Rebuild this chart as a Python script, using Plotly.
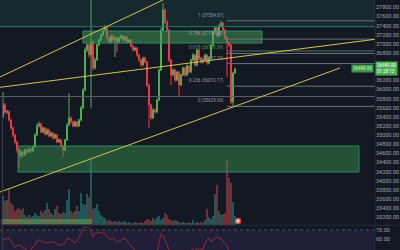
import plotly.graph_objects as go

# ---------------- data ----------------
opens = [35400, 35660, 35507, 35512, 35332, 35157, 35003, 34850, 34675, 34544,
         34631, 34566, 34675, 34631, 34697, 34653, 34741, 35003, 35201, 35244,
         35069, 35157, 35025, 35113, 34982, 35047, 34938, 35003, 34850, 34894,
         34763, 34675, 34894, 35223, 35376, 35288, 35201, 35288, 35201, 35332,
         35595, 35989, 36865, 36975, 36756, 37040, 36471, 36646, 36975, 37084,
         37194, 37303, 37369, 37128, 37040, 37172, 37084, 37128, 37040, 37128,
         37172, 37084, 37150, 37040, 37084, 36953, 36865, 36909, 36756, 36646,
         36537, 36690, 36602, 36099, 35660, 35376, 35551, 35507, 35770, 36427,
         37303, 37741, 37478, 37303, 36646, 36318, 36427, 36208, 36383, 36099,
         36318, 36471, 36318, 36515, 36383, 36646, 36756, 36537, 36865, 36690,
         36602, 36646, 36756, 36580, 36690, 36975, 37259, 37347, 37172, 37391,
         37456, 37303, 37128, 37040, 36975, 35726, 36361]
highs = [35945, 35700, 35560, 35540, 35360, 35190, 35030, 34880, 34700, 34680,
         34660, 34710, 34700, 34730, 34720, 34770, 35040, 35260, 35300, 35270,
         35190, 35180, 35150, 35140, 35080, 35070, 35040, 35030, 34930, 34920,
         34790, 34920, 35260, 35923, 35410, 35320, 35320, 35310, 35360, 35640,
         36030, 36920, 37030, 37000, 38100, 37080, 36690, 37010, 37120, 37230,
         37340, 37412, 37390, 37150, 37200, 37200, 37160, 37150, 37160, 37210,
         37190, 37180, 37170, 37110, 37100, 36980, 36940, 36930, 36780, 36670,
         36720, 36720, 36630, 36120, 35690, 35590, 35580, 35800, 36460, 37350,
         37894, 37780, 37510, 37330, 36670, 36460, 36450, 36410, 36400, 36350,
         36500, 36500, 36550, 36540, 36680, 36800, 36780, 36900, 36890, 36710,
         36680, 36790, 36780, 36720, 37010, 37300, 37390, 37370, 37430, 37504.61,
         37480, 37330, 37160, 37060, 37000, 36390, 36480]
lows = [35380, 35470, 35460, 35300, 35120, 34960, 34800, 34620, 34281, 34500,
        34520, 34540, 34600, 34610, 34620, 34630, 34720, 34980, 35170, 35040,
        35040, 34990, 35000, 34950, 34960, 34900, 34910, 34820, 34830, 34730,
        34522, 34650, 34870, 35200, 35250, 35170, 35180, 35160, 35180, 35300,
        35570, 35960, 36820, 36700, 35600, 36420, 36440, 36620, 36950, 37060,
        37170, 37280, 37090, 37000, 37010, 37050, 36712, 36820, 37010, 37100,
        37050, 37060, 37000, 37010, 36920, 36830, 36840, 36720, 36600, 36500,
        36510, 36570, 36050, 35157, 35340, 35350, 35470, 35480, 35740, 36400,
        37280, 37440, 37260, 36600, 36099, 36290, 36170, 36180, 35836, 36070,
        36290, 36280, 36290, 36350, 36360, 36620, 36500, 36510, 36650, 36560,
        36570, 36620, 36540, 36550, 36660, 36950, 37230, 37140, 37150, 37360,
        37270, 37090, 36274, 36930, 35682, 35629.69, 36340]
closes = [35660, 35507, 35512, 35332, 35157, 35003, 34850, 34675, 34544, 34631,
          34566, 34675, 34631, 34697, 34653, 34741, 35003, 35201, 35244, 35069,
          35157, 35025, 35113, 34982, 35047, 34938, 35003, 34850, 34894, 34763,
          34675, 34894, 35223, 35376, 35288, 35201, 35288, 35201, 35332, 35595,
          35989, 36865, 36975, 36756, 37040, 36471, 36646, 36975, 37084, 37194,
          37303, 37369, 37128, 37040, 37172, 37084, 37128, 37040, 37128, 37172,
          37084, 37150, 37040, 37084, 36953, 36865, 36909, 36756, 36646, 36537,
          36690, 36602, 36099, 35660, 35376, 35551, 35507, 35770, 36427, 37303,
          37741, 37478, 37303, 36646, 36318, 36427, 36208, 36383, 36099, 36318,
          36471, 36318, 36515, 36383, 36646, 36756, 36537, 36865, 36690, 36602,
          36646, 36756, 36580, 36690, 36975, 37259, 37347, 37172, 37391, 37456,
          37303, 37128, 37040, 36975, 35726, 36361, 36449]
volumes = [29, 24, 25, 36, 22, 20, 14, 16, 17, 15, 17,
           10, 8, 10, 8, 9, 12, 10, 9, 14, 12, 15,
           22, 16, 12, 10, 16, 19, 12, 11, 13, 12,
           25, 36, 14, 12, 14, 19, 14, 32, 21, 20, 31, 28,
           65,
           16, 17, 21, 14, 10, 8, 7,
           4, 5, 4, 3, 4, 3, 4, 3, 3, 4,
           2, 3, 2, 2, 3, 2, 2, 3, 2, 4,
           6, 5, 4, 7, 5, 8, 9, 5, 7,
           12, 10, 6, 5, 4, 5, 4, 3,
           2, 3, 2, 2, 3, 2,
           5,
           2, 3, 2, 3, 2,
           5, 16, 8, 6, 9, 31, 40, 14, 10, 11, 12,
           65, 47, 42, 23, 9]
rsi_values = [58.9, 60, 61, 60, 56.7, 53.3, 51, 52, 53.3, 52,
              50, 50, 46, 45, 48.9, 51, 53.3, 57.8, 58.9, 57.8,
              56.7, 56.7, 55.6, 55.6, 56.7, 56.7, 56.7, 54.4, 53.3, 53.3,
              54.4, 55.6, 60, 61, 58.9, 56.7, 55.6, 57.8, 61, 65.6,
              72.2, 73.3, 73.3, 72.2, 68.9, 62.2, 66.7, 66.7, 66.7, 67.8,
              65.6, 65.6, 63.3, 60, 60, 61, 58.9, 56.7, 57.8, 58.9,
              60, 61, 57.8, 54.4, 52.2, 50, 47.8, 45, 43, 42,
              44, 43, 38, 35, 34, 37, 38, 44, 55.6, 65.6,
              64, 58.9, 52.2, 47.8, 45, 46, 44, 45.5, 43, 45,
              46.5, 45, 47, 46, 48, 49, 47, 50, 48.5, 48,
              49, 55.6, 58.9, 61, 57.8, 58.9, 61, 62.2, 61, 60,
              57.8, 54.4, 52.2, 46, 35, 42, 44]
candle_index = list(range(len(closes)))

price_ticks = [37800, 37600, 37400, 37200, 37000, 36800, 36200, 36000, 35800,
               35600, 35400, 35200, 35000, 34800, 34600, 34400, 34200, 34000,
               33800, 33600, 33400, 33200]
rsi_ticks = [70, 60, 50]

fib_top = 37504.61
fib_bottom = 35629.69
fib_ratios = [1, 0.786, 0.618, 0.5, 0.236, 0]
fib_start = 112          # candle index where the fib levels start
fib_end = 186

trend_x0 = [-1.5, -1.5, -1.5]
trend_y0 = [36274, 36048, 33755]
trend_x1 = [80, 186, 168.5]
trend_y1 = [37960, 37099, 36471]

zone_x0 = [-1.5, 40, 7.5]
zone_x1 = [186, 129.5, 178]
zone_y0 = [37375, 37018, 34193]
zone_y1 = [38200, 37281, 34763]

level_full = [35847]          # full-width grey horizontal
level_teal_full = [37375]     # full-width teal line
level_teal_right = [36843]    # teal line right of fib start

x_range = [-1.5, 186]
price_range = [33032, 37960]
rsi_range = [47.8, 74.4]
vol_range = [0, 225]

# ---------------- figure ----------------
BG = "#141823"
GREEN = "#4caf50"
RED = "#f23645"

fig = go.Figure()

vol_colors = ["rgba(38,166,154,0.6)" if c >= o else "rgba(239,83,80,0.55)"
              for o, c in zip(opens, closes)]
fig.add_trace(go.Bar(x=candle_index, y=volumes, marker_color=vol_colors,
                     marker_line_width=0, width=0.75, xaxis="x", yaxis="y2",
                     hoverinfo="skip"))
fig.add_trace(go.Candlestick(
    x=candle_index, open=opens, high=highs, low=lows, close=closes,
    increasing=dict(line=dict(color=GREEN, width=1), fillcolor=GREEN),
    decreasing=dict(line=dict(color=RED, width=1), fillcolor=RED),
    whiskerwidth=0, xaxis="x", yaxis="y"))
fig.add_trace(go.Scatter(x=candle_index, y=rsi_values, mode="lines",
                         line=dict(color="#8e2b3b", width=1),
                         xaxis="x2", yaxis="y3", hoverinfo="skip"))
fig.add_trace(go.Scatter(x=[candle_index[-1] + 1.5], y=[4], mode="markers",
                         marker=dict(size=5, color="#f3dccd",
                                     line=dict(color="#e0443a", width=1.5)),
                         xaxis="x", yaxis="y2", hoverinfo="skip"))

shapes = []
# zones
zone_fill = ["rgba(38,120,100,0.18)", "rgba(67,160,90,0.5)", "rgba(60,150,85,0.45)"]
zone_line = ["rgba(0,0,0,0)", "#2f8a66", "#2f8a66"]
for x0, x1, y0, y1, f, l in zip(zone_x0, zone_x1, zone_y0, zone_y1, zone_fill, zone_line):
    shapes.append(dict(type="rect", xref="x", yref="y", x0=x0, x1=x1, y0=y0, y1=y1,
                       fillcolor=f, line=dict(color=l, width=1), layer="above"))
# full-width lines
for v in level_full:
    shapes.append(dict(type="line", xref="x", yref="y", x0=x_range[0], x1=x_range[1],
                       y0=v, y1=v, line=dict(color="#5d606b", width=1)))
for v in level_teal_full:
    shapes.append(dict(type="line", xref="x", yref="y", x0=x_range[0], x1=x_range[1],
                       y0=v, y1=v, line=dict(color="#2b7a6c", width=1)))
for v in level_teal_right:
    shapes.append(dict(type="line", xref="x", yref="y", x0=fib_start, x1=fib_end,
                       y0=v, y1=v, line=dict(color="#3f7a62", width=1)))
# fib levels
annotations = []
for r in fib_ratios:
    lvl = fib_bottom + r * (fib_top - fib_bottom)
    shapes.append(dict(type="line", xref="x", yref="y", x0=fib_start, x1=fib_end,
                       y0=lvl, y1=lvl, line=dict(color="#6e717c", width=1)))
    annotations.append(dict(x=fib_start - 0.5, y=lvl, xref="x", yref="y",
                            text=f"{r:g} ({lvl:.2f})", showarrow=False,
                            xanchor="right", yanchor="bottom",
                            font=dict(size=4.5, color="#4e9a5a" if r == 0.618 else "#9598a1")))
# trend lines
for x0, y0, x1, y1 in zip(trend_x0, trend_y0, trend_x1, trend_y1):
    shapes.append(dict(type="line", xref="x", yref="y", x0=x0, y0=y0, x1=x1, y1=y1,
                       line=dict(color="#cfc54a", width=1)))
# volume strip at the base
shapes.append(dict(type="rect", xref="x", yref="y2", x0=-1, x1=44.5, y0=1, y1=6,
                   fillcolor="rgba(110,180,90,0.45)", line=dict(width=0), layer="above"))
# vertical marker line on the left
shapes.append(dict(type="line", xref="x", yref="paper", x0=-0.3, x1=-0.3, y0=0, y1=0.614,
                   line=dict(color="#3c404b", width=1)))
# RSI band + 70 line
shapes.append(dict(type="rect", xref="paper", yref="y3", x0=0, x1=1, y0=30, y1=70,
                   fillcolor="rgba(126,87,194,0.13)", line=dict(width=0), layer="below"))
shapes.append(dict(type="line", xref="paper", yref="y3", x0=0, x1=1, y0=70, y1=70,
                   line=dict(color="#4a4d5c", width=1, dash="dot")))
# pane divider and axis separator
shapes.append(dict(type="line", xref="paper", yref="paper", x0=0, x1=1.08, y0=0.099, y1=0.099,
                   line=dict(color="#242836", width=1)))
shapes.append(dict(type="line", xref="paper", yref="paper", x0=1, x1=1, y0=0, y1=1,
                   line=dict(color="#242836", width=1)))

# last price label on axis
annotations.append(dict(x=1, y=closes[-1], xref="paper", yref="y",
                        text=f"{closes[-1]:.2f}<br>01:28:13", showarrow=False,
                        xanchor="left", yanchor="middle", align="left",
                        bgcolor=GREEN, borderpad=1,
                        font=dict(size=4.5, color="#ffffff")))
annotations.append(dict(x=179.5, y=closes[-1], xref="x", yref="y",
                        text=f"{closes[-1]:.2f}", showarrow=False,
                        xanchor="center", yanchor="middle",
                        bgcolor="#3f9a4a", borderpad=1,
                        font=dict(size=4.5, color="#d8f0d8")))

fig.update_layout(
    width=400, height=250, margin=dict(l=0, r=25, t=0, b=0),
    paper_bgcolor=BG, plot_bgcolor=BG, showlegend=False,
    font=dict(family="Roboto, DejaVu Sans, sans-serif"),
    xaxis=dict(domain=[0, 1], range=x_range, visible=False, anchor="y",
               rangeslider=dict(visible=False)),
    yaxis=dict(domain=[0.1, 1], range=price_range, side="right", anchor="x",
               tickvals=price_ticks, ticktext=[f"{v:.2f}" for v in price_ticks],
               tickfont=dict(size=5.5, color="#9ea2ab"), showgrid=False,
               zeroline=False, ticks="", showline=False),
    yaxis2=dict(domain=[0.1, 1], range=vol_range, overlaying="y", anchor="x",
                visible=False),
    xaxis2=dict(domain=[0, 1], range=x_range, visible=False, anchor="y3"),
    yaxis3=dict(domain=[0, 0.096], range=rsi_range, side="right", anchor="x2",
                tickvals=rsi_ticks, ticktext=[f"{v:.2f}" for v in rsi_ticks],
                tickfont=dict(size=5.5, color="#9ea2ab"), showgrid=False,
                zeroline=False, ticks=""),
    shapes=shapes, annotations=annotations,
)

fig.write_html("out.html")
